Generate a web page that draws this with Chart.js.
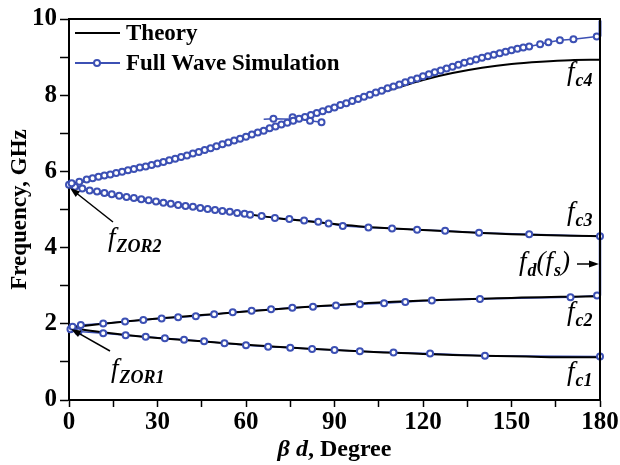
<!DOCTYPE html>
<html>
<head>
<meta charset="utf-8">
<script src="https://cdn.jsdelivr.net/npm/chart.js@4"></script>
<style>
  html, body { margin: 0; padding: 0; background: #fff; }
</style>
</head>
<body>
<canvas id="chart" width="620" height="465"></canvas>
<script>
// theory curves, sampled every 10 degrees
const theoryX = [0, 10, 20, 30, 40, 50, 60, 70, 80, 90, 100, 110, 120, 130, 140, 150, 160, 170, 180];
const fc4Theory = [5.65, 5.82, 6.00, 6.20, 6.42, 6.65, 6.90, 7.15, 7.42, 7.68, 7.93, 8.17, 8.40, 8.58, 8.72, 8.82, 8.88, 8.92, 8.93];
const fc3Theory = [5.65, 5.44, 5.30, 5.18, 5.07, 4.98, 4.88, 4.78, 4.70, 4.62, 4.55, 4.50, 4.46, 4.42, 4.38, 4.35, 4.33, 4.31, 4.30];
const fc2Theory = [1.90, 1.99, 2.07, 2.14, 2.20, 2.26, 2.32, 2.38, 2.44, 2.49, 2.54, 2.58, 2.61, 2.64, 2.66, 2.68, 2.70, 2.71, 2.72];
const fc1Theory = [1.90, 1.79, 1.70, 1.63, 1.57, 1.51, 1.45, 1.40, 1.35, 1.31, 1.27, 1.24, 1.21, 1.18, 1.16, 1.15, 1.13, 1.12, 1.12];

// full wave simulation
const fc4SimX = [0.9, 3.5, 6, 8, 10, 12, 14, 16, 18, 20, 22, 24, 26, 28, 30, 32, 34, 36, 38, 40, 42, 44, 46, 48, 50, 52, 54, 56, 58, 60, 62, 64, 66, 68, 70, 72, 74, 76, 78, 80, 82, 84, 86, 88, 90, 92, 94, 96, 98, 100, 102, 104, 106, 108, 110, 112, 114, 116, 118, 120, 122, 124, 126, 128, 130, 132, 134, 136, 138, 140, 142, 144, 146, 148, 150, 152, 154, 156, 159.7, 162.5, 166.4, 171, 178.9];
const fc4SimY = [5.69, 5.73, 5.79, 5.82, 5.86, 5.89, 5.92, 5.96, 5.99, 6.03, 6.06, 6.10, 6.13, 6.17, 6.21, 6.25, 6.29, 6.33, 6.38, 6.42, 6.47, 6.51, 6.56, 6.61, 6.66, 6.71, 6.76, 6.81, 6.86, 6.91, 6.97, 7.02, 7.07, 7.13, 7.18, 7.23, 7.28, 7.33, 7.38, 7.43, 7.48, 7.53, 7.58, 7.63, 7.68, 7.74, 7.79, 7.85, 7.90, 7.96, 8.01, 8.07, 8.12, 8.18, 8.23, 8.28, 8.34, 8.39, 8.44, 8.50, 8.55, 8.60, 8.65, 8.70, 8.75, 8.80, 8.85, 8.89, 8.94, 8.98, 9.02, 9.06, 9.10, 9.14, 9.18, 9.22, 9.25, 9.28, 9.34, 9.39, 9.44, 9.47, 9.54];
const fc3SimX = [0, 2, 4.5, 7, 9.5, 12, 14.5, 17, 19.5, 22, 24.5, 27, 29.5, 32, 34.5, 37, 39.5, 42, 44.5, 47, 49.5, 52, 54.5, 57, 59.5, 61.4, 65.3, 69.8, 74.7, 79.7, 84.5, 88, 92.8, 101.5, 109.5, 118, 127.5, 139, 156, 180];
const fc3SimY = [5.65, 5.60, 5.55, 5.50, 5.47, 5.43, 5.40, 5.36, 5.33, 5.30, 5.27, 5.24, 5.21, 5.18, 5.15, 5.12, 5.09, 5.07, 5.04, 5.01, 4.99, 4.96, 4.94, 4.91, 4.89, 4.86, 4.83, 4.78, 4.75, 4.71, 4.68, 4.63, 4.57, 4.53, 4.50, 4.47, 4.44, 4.39, 4.35, 4.30];
const fc2SimX = [1.2, 4, 11.6, 19, 25.2, 31.4, 37, 43, 49.2, 55.5, 61.9, 68.5, 75.7, 82.7, 90.5, 98.6, 106.8, 114, 123, 139.3, 170, 179];
const fc2SimY = [1.92, 1.97, 2.01, 2.06, 2.10, 2.14, 2.17, 2.20, 2.25, 2.30, 2.34, 2.38, 2.42, 2.45, 2.48, 2.51, 2.54, 2.57, 2.61, 2.65, 2.70, 2.74];
const fc1SimX = [0.5, 3.2, 11.6, 19.2, 26, 32.5, 39, 45.8, 52.7, 60, 67.5, 75, 82.4, 90, 98.6, 110, 122.4, 141, 180];
const fc1SimY = [1.86, 1.80, 1.75, 1.70, 1.66, 1.62, 1.58, 1.54, 1.49, 1.44, 1.40, 1.37, 1.34, 1.31, 1.28, 1.25, 1.22, 1.16, 1.14];
// stray simulation points near 75 degrees
const strayX = [66, 69.3, 76, 75.8, 81.7, 85.6];
const strayY = [7.37, 7.38, 7.37, 7.42, 7.33, 7.29];
const strayR = [0, 3, 0, 3, 3, 3];
// vertical jumps at beta d = 180
const topJumpY = [9.54, 9.96];
const bandJumpY = [2.74, 4.30];

const xTicks = [0, 30, 60, 90, 120, 150, 180];
const yTicks = [0, 2, 4, 6, 8, 10];

const BLUE = '#3c50b4';
const SERIF = '"Liberation Serif", "Times New Roman", serif';

const pts = (xs, ys) => xs.map((x, i) => ({ x: x, y: ys[i] }));

function simLine(xs, ys) {
    return { data: pts(xs, ys), showLine: true, borderColor: BLUE, borderWidth: 1.5, pointRadius: 0, order: 3 };
}
function simPoints(xs, ys) {
    return { data: pts(xs, ys), showLine: false, pointRadius: 3, pointBorderWidth: 2,
             pointBorderColor: BLUE, pointBackgroundColor: '#fff', order: 0 };
}
function theory(ys) {
    return { data: pts(theoryX, ys), showLine: true, borderColor: '#000', borderWidth: 2,
             pointRadius: 0, cubicInterpolationMode: 'monotone', order: 1 };
}

function arrow(ctx, x1, y1, x2, y2) {
    const a = Math.atan2(y2 - y1, x2 - x1);
    ctx.beginPath();
    ctx.moveTo(x1, y1);
    ctx.lineTo(x2 - 6 * Math.cos(a), y2 - 6 * Math.sin(a));
    ctx.stroke();
    ctx.beginPath();
    ctx.moveTo(x2, y2);
    ctx.lineTo(x2 - 10 * Math.cos(a) + 3.5 * Math.sin(a), y2 - 10 * Math.sin(a) - 3.5 * Math.cos(a));
    ctx.lineTo(x2 - 10 * Math.cos(a) - 3.5 * Math.sin(a), y2 - 10 * Math.sin(a) + 3.5 * Math.cos(a));
    ctx.closePath();
    ctx.fill();
}

// f with bold italic subscript
function fLabel(ctx, x, y, sub) {
    ctx.font = 'italic 27px ' + SERIF;
    ctx.fillText('f', x, y);
    const w = ctx.measureText('f').width;
    ctx.font = 'bold italic 18px ' + SERIF;
    ctx.fillText(sub, x + w + 1, y + 6);
    return x + w + 1 + ctx.measureText(sub).width;
}

const decor = {
    id: 'decor',
    afterDraw(chart) {
        const ctx = chart.ctx;
        const a = chart.chartArea;
        ctx.save();
        // frame top and right
        ctx.strokeStyle = '#000';
        ctx.lineWidth = 2;
        ctx.beginPath();
        ctx.moveTo(a.left, a.top);
        ctx.lineTo(a.right, a.top);
        ctx.lineTo(a.right, a.bottom);
        ctx.stroke();

        // legend
        ctx.fillStyle = '#000';
        ctx.textBaseline = 'alphabetic';
        ctx.lineWidth = 2;
        ctx.beginPath(); ctx.moveTo(75, 33); ctx.lineTo(120, 33); ctx.stroke();
        ctx.strokeStyle = BLUE;
        ctx.beginPath(); ctx.moveTo(75, 63); ctx.lineTo(120, 63); ctx.stroke();
        ctx.beginPath(); ctx.arc(97, 63, 3, 0, Math.PI * 2);
        ctx.fillStyle = '#fff'; ctx.fill(); ctx.stroke();
        ctx.fillStyle = '#000';
        ctx.font = 'bold 23px ' + SERIF;
        ctx.fillText('Theory', 126, 40);
        ctx.fillText('Full Wave Simulation', 126, 70);

        // x axis title
        ctx.font = 'bold italic 24px ' + SERIF;
        const t1 = '\u03b2 d';
        const w1 = ctx.measureText(t1).width;
        ctx.font = 'bold 24px ' + SERIF;
        const t2 = ', Degree';
        const w2 = ctx.measureText(t2).width;
        const x0 = (a.left + a.right) / 2 - (w1 + w2) / 2;
        ctx.font = 'bold italic 24px ' + SERIF;
        ctx.fillText(t1, x0, 456);
        ctx.font = 'bold 24px ' + SERIF;
        ctx.fillText(t2, x0 + w1, 456);

        // branch labels
        ctx.strokeStyle = '#000';
        ctx.lineWidth = 1.5;
        fLabel(ctx, 567, 80, 'c4');
        fLabel(ctx, 567, 220, 'c3');
        fLabel(ctx, 567, 320, 'c2');
        fLabel(ctx, 567, 380, 'c1');
        fLabel(ctx, 108, 246, 'ZOR2');
        fLabel(ctx, 111, 377, 'ZOR1');
        let x = fLabel(ctx, 519, 270, 'd');
        ctx.font = 'italic 27px ' + SERIF;
        ctx.fillText('(', x, 270);
        x += ctx.measureText('(').width;
        x = fLabel(ctx, x, 270, 's');
        ctx.font = 'italic 27px ' + SERIF;
        ctx.fillText(')', x, 270);

        arrow(ctx, 577, 264, 599, 264);
        arrow(ctx, 113, 222, 70, 188);
        arrow(ctx, 110, 351, 71, 329);
        ctx.restore();
    }
};

new Chart(document.getElementById('chart'), {
    type: 'scatter',
    data: {
        datasets: [
            theory(fc4Theory), theory(fc3Theory), theory(fc2Theory), theory(fc1Theory),
            simLine(fc4SimX, fc4SimY), simLine(fc3SimX, fc3SimY), simLine(fc2SimX, fc2SimY), simLine(fc1SimX, fc1SimY),
            simPoints(fc4SimX, fc4SimY), simPoints(fc3SimX, fc3SimY), simPoints(fc2SimX, fc2SimY), simPoints(fc1SimX, fc1SimY),
            { data: pts(strayX, strayY), showLine: true, borderColor: BLUE, borderWidth: 1.5, pointRadius: strayR,
              pointBorderWidth: 2, pointBorderColor: BLUE, pointBackgroundColor: '#fff', order: 0 },
            { data: pts([180, 180], topJumpY), showLine: true, borderColor: BLUE, borderWidth: 3, pointRadius: 0, order: 0 },
            { data: pts([180, 180], bandJumpY), showLine: true, borderColor: BLUE, borderWidth: 2.5, pointRadius: 0, order: 0 }
        ]
    },
    options: {
        responsive: false,
        animation: false,
        events: [],
        clip: false,
        layout: { padding: { top: 19, right: 20, left: 0, bottom: 0 } },
        plugins: { legend: { display: false }, tooltip: { enabled: false } },
        scales: {
            x: {
                type: 'linear', min: 0, max: 180,
                afterFit(s) { s.height = 65; },
                border: { color: '#000', width: 2 },
                grid: { drawOnChartArea: false, drawTicks: true, tickLength: 7, tickWidth: 1.5, tickColor: '#000' },
                ticks: {
                    stepSize: 15, autoSkip: false, maxRotation: 0, padding: 1, color: '#000',
                    font: { family: SERIF, size: 25, weight: 'bold' },
                    callback: v => xTicks.includes(v) ? v : ''
                }
            },
            y: {
                min: 0, max: 10,
                afterFit(s) { s.width = 69; },
                border: { color: '#000', width: 2 },
                grid: { drawOnChartArea: false, drawTicks: true, tickLength: 9, tickWidth: 1.5, tickColor: '#000' },
                ticks: {
                    stepSize: 1, autoSkip: false, padding: 3, color: '#000',
                    font: { family: SERIF, size: 25, weight: 'bold' },
                    callback: v => yTicks.includes(v) ? v : ''
                },
                title: {
                    display: true, text: 'Frequency, GHz', color: '#000',
                    font: { family: SERIF, size: 23, weight: 'bold' },
                    padding: { top: 6, bottom: 0 }
                }
            }
        }
    },
    plugins: [decor]
});
</script>
</body>
</html>
